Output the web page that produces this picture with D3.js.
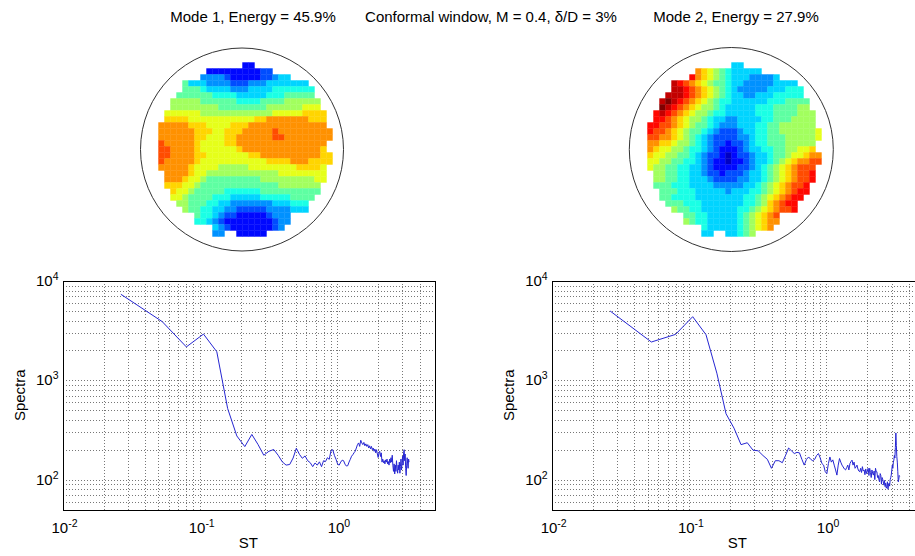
<!DOCTYPE html>
<html lang="en">
<head>
<meta charset="UTF-8"/>
<title>POD modes and spectra</title>
<script src="https://d3js.org/d3.v7.min.js"></script>
<style>
  body { margin: 0; background: #fff; }
  text { font-family: "Liberation Sans", Arial, sans-serif; fill: #000; }
  .grid line { stroke: #777; stroke-width: 1; stroke-dasharray: 1,2; shape-rendering: crispEdges; }
  .frame { fill: none; stroke: #000; stroke-width: 1; shape-rendering: crispEdges; }
  path.spec { fill: none; stroke: #2626d2; stroke-width: 1; }
  circle.rim { fill: none; stroke: #333; stroke-width: 1; }
</style>
</head>
<body>
<div id="chart"></div>
<script>
// titles
var titles = ["Mode 1, Energy = 45.9%", "Conformal window, M = 0.4, \u03b4/D = 3%", "Mode 2, Energy = 27.9%"];

// mode shapes, one hex digit per cell (0 = low ... f = high on the jet map), "." = outside
var mode1Grid = [
  "..............22.............",
  "........22222222233..........",
  ".......444432222233455.......",
  "....755544443334445555555....",
  "....7776555544455556666666...",
  "...77777766665555566677777...",
  "..8888877777766667777888888..",
  "..8888888877777777888888999..",
  ".99999988888888888899999aaaa.",
  ".aaaa99999999999aabbbbbbbaaa.",
  "bbbbbaaa9999aaabbbbbbbbbbbbb.",
  "bbbbbbaaa99aaabbbbbcbbbbbbbbb",
  "bbbbbbaa999aabbbbbbccbbbbbbbb",
  "cbbbbba9999aabbbbbbbbbbbbbbb.",
  "ccbbbba999999abbbbbbbbbbbbba.",
  "ccbbbbaa9999999aabbbbbbbbbbaa",
  "cbbbbba99999999999aaaabbbaaaa",
  "bbbbba99998888899999999aaaa9.",
  ".bbbba9988888888888899999999.",
  ".bbba99877777777788888888899.",
  ".aaa99877777777777778888888..",
  "..a998777776666667777777777..",
  "..998777766655555666667777...",
  "...8877766554444444555666....",
  "....877665544333334444555....",
  "......7665433222223444.......",
  "......6654322222222344.......",
  ".........543222222234........",
  ".........44..22222..........."
];
var mode2Grid = [
  "..............55.............",
  "........ba987655555..........",
  ".......dba987655544445.......",
  "....edcba9877655444445555....",
  "....eedcba9876544444555666...",
  "...eeedcba9876554455566666...",
  "..efedcba987665555556667777..",
  "..fedcba9887655555666777788..",
  ".dedcba988766555556667777888.",
  ".ddcba9887655445555667778888.",
  "ddccba9877654445556677888888.",
  "dccba987765433345566778888889",
  "ccbba987654333344566777888889",
  "bbaa988765433233456677788888.",
  "ba9988766543222345566778899a.",
  "a9988776543321233455677899abb",
  "998877665432212234556789abbcc",
  "98877665543222233456789abccc.",
  ".8877665543323334556789abccd.",
  ".8877665554333344556789abccd.",
  ".777666555544444556789abccd..",
  "..77766655555455566789abcdd..",
  "..7766665555555566789abcdd...",
  "...77766655555556678abcdd....",
  "....8776655555566789abccd....",
  "......7766555556789abc.......",
  "......8766555556789abb.......",
  ".........6555556789ab........",
  ".........55..55678..........."
];

// spectra, sampled every df in ST
var df = 0.02664;
var spectrum1 = [
  7350, 3900, 2170, 2920, 1940, 520, 275, 215, 285, 225,
  176, 193, 201, 176, 151, 140, 142, 165, 207, 180,
  164, 173, 155, 148, 135, 147, 140, 151, 135, 155,
  152, 166, 160, 196, 200, 175, 160, 143, 140, 150,
  157, 155, 143, 137, 138, 150, 160, 172, 178, 186,
  193, 208, 225, 234, 216, 249, 234, 225, 237, 219,
  229, 216, 225, 208, 219, 204, 216, 200, 208, 193,
  203, 186, 200, 181, 167, 186, 193, 171, 186, 150,
  161, 148, 155, 144, 158, 150, 161, 144, 152, 140,
  161, 148, 166, 150, 176, 140, 121, 144, 114, 140,
  121, 155, 130, 116, 140, 125, 150, 116, 135, 161,
  125, 144, 172, 140, 186, 200, 155, 181, 130, 110,
  140, 166, 144, 130, 161, 150
];
var spectrum2 = [
  4990, 2430, 2900, 4370, 2880, 1180, 460, 330, 225, 235,
  198, 195, 175, 160, 130, 155, 155, 148, 175, 208,
  195, 183, 188, 186, 160, 140, 160, 169, 160, 155,
  160, 175, 183, 165, 145, 140, 120, 115, 145, 169,
  150, 158, 140, 125, 111, 140, 163, 150, 140, 134,
  128, 125, 132, 140, 125, 145, 152, 157, 140, 150,
  130, 134, 140, 128, 122, 120, 130, 118, 135, 122,
  125, 112, 128, 115, 122, 130, 110, 130, 118, 105,
  125, 115, 111, 122, 100, 130, 120, 120, 105, 110,
  100, 95, 115, 110, 90, 105, 101, 95, 88, 98,
  85, 92, 82, 85, 95, 80, 88, 92, 86, 100,
  105, 111, 125, 140, 130, 150, 157, 175, 165, 210,
  295, 220, 170, 150, 120, 95, 100, 110, 108
];

// axis limits and labelled decades
var stDomain = [0.01, 5.1];
var specDomain = [50, 10000];
var xTickExp = [-2, -1, 0];
var yTickExp = [2, 3, 4];

var W = 915, H = 556;
var svg = d3.select("#chart").append("svg")
    .attr("width", W)
    .attr("height", H);
svg.append("rect").attr("width", W).attr("height", H).attr("fill", "#fff");

// titles
var titleX = [253, 491, 736];
svg.selectAll("text.title")
    .data(titles)
    .enter()
    .append("text")
    .attr("class", "title")
    .attr("x", function (d, i) { return titleX[i]; })
    .attr("y", 22)
    .attr("text-anchor", "middle")
    .style("font-size", "15px")
    .text(function (d) { return d; });

// jet colormap
function jet(t) {
    var c = function (v) { return Math.round(255 * Math.max(0, Math.min(1, v))); };
    return "rgb(" + c(1.5 - Math.abs(4 * t - 3)) + "," + c(1.5 - Math.abs(4 * t - 2)) + "," + c(1.5 - Math.abs(4 * t - 1)) + ")";
}
var color = d3.scaleSequential(jet).domain([0, 15]);

function drawMap(grid, x0, y0, size, cx, cy, r) {
    var n = grid[0].length;
    var gx = d3.scaleBand().domain(d3.range(n)).range([x0, x0 + size]);
    var gy = d3.scaleBand().domain(d3.range(grid.length)).range([y0, y0 + size]);
    var cells = [];
    grid.forEach(function (row, j) {
        row.split("").forEach(function (ch, i) {
            if (ch !== ".") cells.push({i: i, j: j, v: parseInt(ch, 16)});
        });
    });
    var g = svg.append("g");
    g.selectAll("rect")
        .data(cells)
        .enter()
        .append("rect")
        .attr("x", function (d) { return gx(d.i); })
        .attr("y", function (d) { return gy(d.j); })
        .attr("width", gx.bandwidth() + 0.4)
        .attr("height", gy.bandwidth() + 0.4)
        .attr("fill", function (d) { return color(d.v); });
    g.append("circle").attr("class", "rim")
        .attr("cx", cx).attr("cy", cy).attr("r", r);
}

drawMap(mode1Grid, 158.3, 62.3, 174, 242, 149.5, 101.5);
drawMap(mode2Grid, 647.3, 62.3, 174, 731.3, 149.5, 102);

function supLabel(sel, exp) {
    sel.append("tspan").text("10");
    sel.append("tspan")
        .attr("dy", -6)
        .style("font-size", "10.5px")
        .text(exp);
}

function drawSpectrum(values, left) {
    var top = 281, bottom = 509.5, right = left + 371.5;
    var x = d3.scaleLog().domain(stDomain).range([left, right]);
    var y = d3.scaleLog().domain(specDomain).range([bottom, top]);
    var g = svg.append("g");

    // dotted grid on every 1..9 tick
    var grid = g.append("g").attr("class", "grid");
    grid.selectAll("line.gx")
        .data(x.ticks().filter(function (t) { return x(t) > left + 1 && x(t) < right - 2; }))
        .enter().append("line")
        .attr("x1", function (d) { return Math.round(x(d)) + 0.5; })
        .attr("x2", function (d) { return Math.round(x(d)) + 0.5; })
        .attr("y1", top).attr("y2", bottom);
    grid.selectAll("line.gy")
        .data(y.ticks().filter(function (t) { return y(t) > top + 1 && y(t) < bottom - 1; }))
        .enter().append("line")
        .attr("y1", function (d) { return Math.round(y(d)) + 0.5; })
        .attr("y2", function (d) { return Math.round(y(d)) + 0.5; })
        .attr("x1", left).attr("x2", right);

    // spectrum line
    var pts = values.map(function (v, k) { return {f: (k + 1) * df, s: v}; });
    g.append("path")
        .datum(pts)
        .attr("class", "spec")
        .attr("d", d3.line()
            .x(function (d) { return x(d.f); })
            .y(function (d) { return y(d.s); }));

    g.append("rect").attr("class", "frame")
        .attr("x", Math.round(left) + 0.5).attr("y", top + 0.5)
        .attr("width", Math.round(right - left)).attr("height", Math.round(bottom - top));

    // tick labels
    g.selectAll("text.xt")
        .data(xTickExp)
        .enter().append("text")
        .attr("x", function (d) { return x(Math.pow(10, d)) + 2; })
        .attr("y", 533)
        .attr("text-anchor", "middle")
        .style("font-size", "15px")
        .each(function (d) { supLabel(d3.select(this), String(d)); });
    g.selectAll("text.yt")
        .data(yTickExp)
        .enter().append("text")
        .attr("x", left - 4)
        .attr("y", function (d) { return y(Math.pow(10, d)) + 5; })
        .attr("text-anchor", "end")
        .style("font-size", "15px")
        .each(function (d) { supLabel(d3.select(this), String(d)); });

    g.append("text")
        .attr("x", (left + right) / 2)
        .attr("y", 548)
        .attr("text-anchor", "middle")
        .style("font-size", "15px")
        .text("ST");
    g.append("text")
        .attr("transform", "translate(" + (left - 38) + "," + ((top + bottom) / 2) + ")rotate(-90)")
        .attr("text-anchor", "middle")
        .style("font-size", "15px")
        .text("Spectra");
}

drawSpectrum(spectrum1, 62.5);
drawSpectrum(spectrum2, 551.7);
</script>
</body>
</html>
